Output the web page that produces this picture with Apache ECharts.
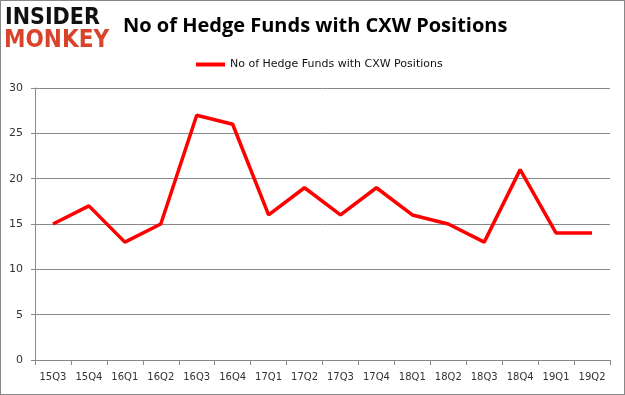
<!DOCTYPE html>
<html><head><meta charset="utf-8">
<script src="https://cdn.jsdelivr.net/npm/echarts@6/dist/echarts.min.js"></script>
<style>
html,body{margin:0;padding:0;background:#fff;}
#wrap{position:absolute;left:0;top:0;width:625px;height:395px;box-sizing:border-box;border:1px solid #888;}
#c{position:absolute;left:0;top:0;width:625px;height:395px;}
</style></head><body>
<div id="wrap"></div>
<div id="c"></div>
<script>
const categories = ["15Q3","15Q4","16Q1","16Q2","16Q3","16Q4","17Q1","17Q2","17Q3","17Q4","18Q1","18Q2","18Q3","18Q4","19Q1","19Q2"];
const hedgeFunds = [15,17,13,15,27,26,16,19,16,19,16,15,13,21,14,14];
const seriesName = "No of Hedge Funds with CXW Positions";
const chartTitle = "No of Hedge Funds with CXW Positions";

const chart = echarts.init(document.getElementById('c'), null, {renderer:'canvas'});
chart.setOption({
  animation:false,
  backgroundColor:'transparent',
  graphic:[
    {type:'text', left:5, top:7, style:{text:'INSIDER', font:'bold 23px "DejaVu Sans Condensed", sans-serif', fill:'#111'}},
    {type:'text', left:4, top:29, style:{text:'MONKEY', font:'bold 24px "DejaVu Sans Condensed", sans-serif', fill:'#d8432b'}}
  ],
  title:{text:chartTitle, left:118, top:11, textStyle:{fontFamily:'"Open Sans", sans-serif', fontWeight:'bold', fontSize:20, color:'#000'}},
  legend:{top:54, left:191, itemWidth:29, itemHeight:4, itemGap:3, icon:'rect',
    textStyle:{fontFamily:'"DejaVu Sans", sans-serif', fontSize:11, color:'#111'},
    data:[seriesName]},
  grid:{left:35, right:15, top:88, bottom:35},
  xAxis:{type:'category', data:categories, boundaryGap:true,
    axisLine:{lineStyle:{color:'#888'}},
    axisTick:{show:true, alignWithLabel:false, lineStyle:{color:'#888'}},
    axisLabel:{color:'#333', fontSize:10, fontFamily:'"DejaVu Sans", sans-serif', margin:12}},
  yAxis:{type:'value', min:0, max:30, interval:5,
    axisLine:{show:true, lineStyle:{color:'#888'}},
    axisTick:{show:true, length:4, lineStyle:{color:'#888'}},
    splitLine:{lineStyle:{color:'#888'}},
    axisLabel:{color:'#333', fontSize:11, fontFamily:'"DejaVu Sans", sans-serif', margin:12}},
  series:[{name:seriesName, type:'line', data:hedgeFunds, symbol:'none',
    lineStyle:{color:'#ff0000', width:3.5}, itemStyle:{color:'#ff0000'}}]
});
</script>
</body></html>
